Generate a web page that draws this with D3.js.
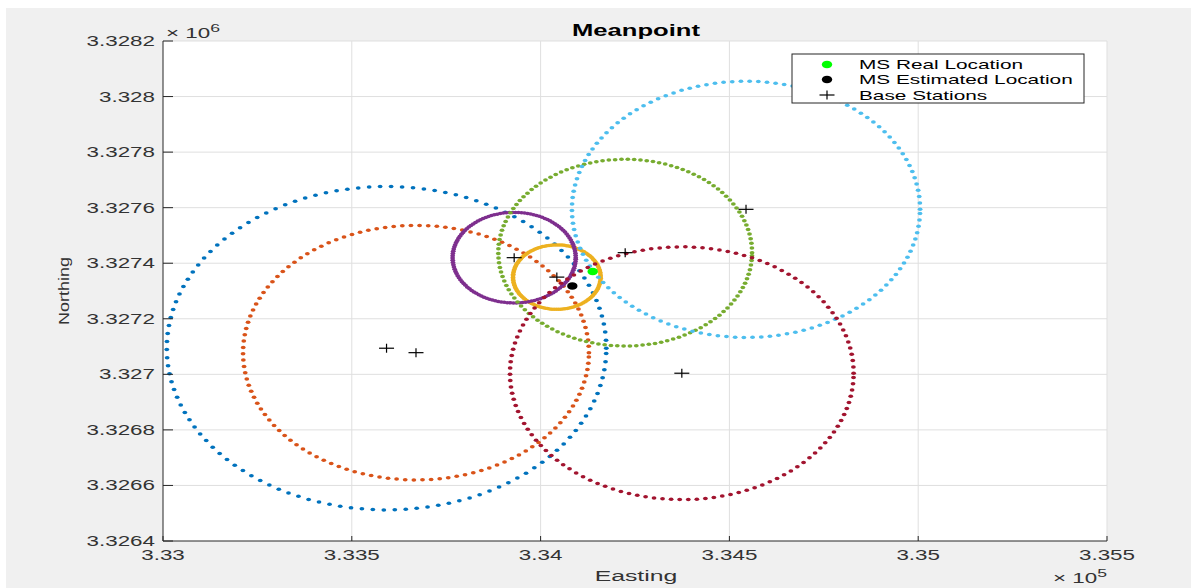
<!DOCTYPE html>
<html>
<head>
<meta charset="utf-8">
<script src="https://cdn.jsdelivr.net/npm/d3@7"></script>
<style>
  body { margin: 0; background: #fff; }
  svg { display: block; font-family: "Liberation Sans", Arial, sans-serif; }
</style>
</head>
<body>
<div id="chart"></div>
<script>
// base stations (UTM easting / northing, m) and measured range to the MS
const stationEasting  = [333592, 333670, 334043, 333930, 334224, 334544, 334374];
const stationNorthing = [3327094, 3327078, 3327350, 3327420, 3327438, 3327594, 3327004];
const stationRange    = [582, 458, 116, 163, 336, 461, 455];

const realLocation = [334138, 3327370];
const estLocation  = [334084, 3327318];

const xTicks = [333000, 333500, 334000, 334500, 335000, 335500];
const xTickLabels = ["3.33", "3.335", "3.34", "3.345", "3.35", "3.355"];
const yTicks = [3326400, 3326600, 3326800, 3327000, 3327200, 3327400, 3327600, 3327800, 3328000, 3328200];
const yTickLabels = ["3.3264", "3.3266", "3.3268", "3.327", "3.3272", "3.3274", "3.3276", "3.3278", "3.328", "3.3282"];
const legendLabels = ["MS Real Location", "MS Estimated Location", "Base Stations"];

const colors = ["#0072BD", "#D95319", "#EDB120", "#7E2F8E", "#77AC30", "#4DBEEE", "#A2142F"];

const width = 1191, height = 588;
const margin = { top: 41, right: 84, bottom: 47, left: 163 };
const SX = 1.6; // the figure is stretched horizontally, text too

const svg = d3.select("#chart").append("svg")
    .attr("width", width)
    .attr("height", height);

// figure background
svg.append("rect").attr("x", 6).attr("y", 8)
    .attr("width", width - 6).attr("height", 580).attr("fill", "#f0f0f0");

const x = d3.scaleLinear().domain([333000, 335500]).range([margin.left, width - margin.right]);
const y = d3.scaleLinear().domain([3326400, 3328200]).range([height - margin.bottom, margin.top]);

svg.append("rect")
    .attr("x", x(333000)).attr("y", y(3328200))
    .attr("width", x(335500) - x(333000)).attr("height", y(3326400) - y(3328200))
    .attr("fill", "#fff");

// stretched text helper
function stext(parent, px, py, str, size, anchor) {
    return parent.append("g")
        .attr("transform", `translate(${px},${py}) scale(${SX},1)`)
        .append("text")
        .attr("text-anchor", anchor || "start")
        .style("font-size", size + "px")
        .text(str);
}

// grid
svg.append("g").selectAll("line").data(xTicks.slice(1)).enter().append("line")
    .attr("x1", d => x(d)).attr("x2", d => x(d))
    .attr("y1", y(3326400)).attr("y2", y(3328200))
    .attr("stroke", "#dfdfdf").attr("stroke-width", 1);
svg.append("g").selectAll("line").data(yTicks.slice(1)).enter().append("line")
    .attr("x1", x(333000)).attr("x2", x(335500))
    .attr("y1", d => y(d)).attr("y2", d => y(d))
    .attr("stroke", "#dfdfdf").attr("stroke-width", 1);

// range circles, sampled like theta = 0:0.05:2*pi with '.' markers
const theta = d3.range(0, 2 * Math.PI, 0.05);
stationRange.forEach((r, i) => {
    svg.append("g").selectAll("ellipse")
        .data(theta).enter().append("ellipse")
        .attr("cx", t => x(stationEasting[i] + r * Math.cos(t)))
        .attr("cy", t => y(stationNorthing[i] + r * Math.sin(t)))
        .attr("rx", 2.4).attr("ry", 1.75)
        .attr("fill", colors[i]);
});

// axes
const ax = svg.append("g").attr("stroke", "#262626").attr("stroke-width", 1);
ax.append("line").attr("x1", x(333000)).attr("x2", x(333000))
    .attr("y1", y(3326400)).attr("y2", y(3328200));
ax.append("line").attr("x1", x(333000)).attr("x2", x(335500))
    .attr("y1", y(3326400)).attr("y2", y(3326400));
ax.selectAll(".yt").data(yTicks).enter().append("line")
    .attr("x1", x(333000)).attr("x2", x(333000) + 10)
    .attr("y1", d => y(d)).attr("y2", d => y(d));
ax.selectAll(".xt").data(xTicks).enter().append("line")
    .attr("x1", d => x(d)).attr("x2", d => x(d))
    .attr("y1", y(3326400)).attr("y2", y(3326400) - 5);

// tick labels
xTicks.forEach((d, i) => {
    stext(svg, x(d), 560, xTickLabels[i], 14, "middle").attr("fill", "#333");
});
yTicks.forEach((d, i) => {
    stext(svg, 155, y(d) + 5, yTickLabels[i], 14, "end").attr("fill", "#333");
});

// exponents
const e6 = stext(svg, 166, 38, "\u00d7 10", 14, "start").attr("fill", "#333");
e6.append("tspan").attr("dy", -6).style("font-size", "11px").text("6");
const e5 = stext(svg, 1107, 583, "\u00d7 10", 14, "end").attr("fill", "#333");
e5.append("tspan").attr("dy", -6).style("font-size", "11px").text("5");

// titles
stext(svg, 636, 36, "Meanpoint", 16, "middle").style("font-weight", "bold").attr("fill", "#000");
stext(svg, 636, 581, "Easting", 15.5, "middle").attr("fill", "#333");
svg.append("text")
    .attr("transform", "translate(69,291) rotate(-90)")
    .attr("text-anchor", "middle")
    .attr("textLength", 68).attr("lengthAdjust", "spacingAndGlyphs")
    .style("font-size", "15px").attr("fill", "#333")
    .text("Northing");

// base stations
const plus = svg.append("g").attr("stroke", "#000").attr("stroke-width", 1.2);
stationEasting.forEach((e, i) => {
    const px = x(e), py = y(stationNorthing[i]);
    plus.append("line").attr("x1", px - 7.5).attr("x2", px + 7.5).attr("y1", py).attr("y2", py);
    plus.append("line").attr("x1", px).attr("x2", px).attr("y1", py - 4.5).attr("y2", py + 4.5);
});

// MS real / estimated
svg.append("ellipse").attr("cx", x(realLocation[0])).attr("cy", y(realLocation[1]))
    .attr("rx", 5.2).attr("ry", 3.8).attr("fill", "#00ff00");
svg.append("ellipse").attr("cx", x(estLocation[0])).attr("cy", y(estLocation[1]))
    .attr("rx", 5.2).attr("ry", 3.8).attr("fill", "#000");

// legend
const lg = svg.append("g");
lg.append("rect").attr("x", 792).attr("y", 54).attr("width", 292).attr("height", 49)
    .attr("fill", "#fff").attr("stroke", "#262626").attr("stroke-width", 1);
const rowY = [64.5, 79.5, 95];
lg.append("ellipse").attr("cx", 827).attr("cy", rowY[0]).attr("rx", 5.2).attr("ry", 3.8).attr("fill", "#00ff00");
lg.append("ellipse").attr("cx", 827).attr("cy", rowY[1]).attr("rx", 5.2).attr("ry", 3.8).attr("fill", "#000");
lg.append("line").attr("x1", 819.5).attr("x2", 834.5).attr("y1", rowY[2]).attr("y2", rowY[2])
    .attr("stroke", "#000").attr("stroke-width", 1.2);
lg.append("line").attr("x1", 827).attr("x2", 827).attr("y1", rowY[2] - 4.5).attr("y2", rowY[2] + 4.5)
    .attr("stroke", "#000").attr("stroke-width", 1.2);
legendLabels.forEach((t, i) => {
    stext(lg, 859, rowY[i] + 4.5, t, 13, "start").attr("fill", "#000");
});
</script>
</body>
</html>
